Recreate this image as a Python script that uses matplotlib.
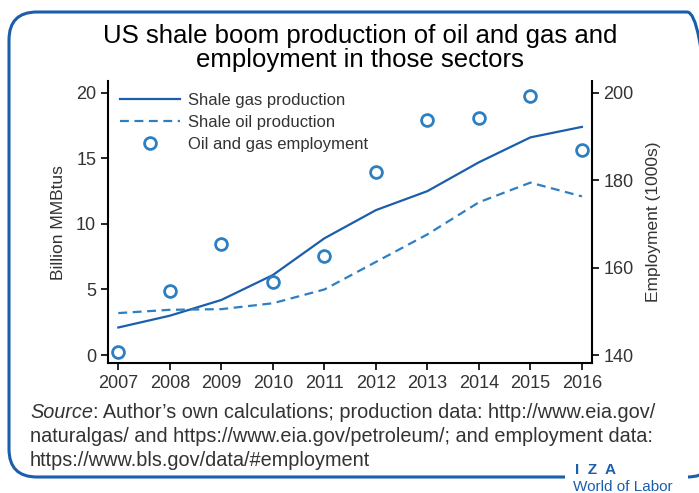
import matplotlib
matplotlib.use('Agg')
import matplotlib.pyplot as plt
from matplotlib.patches import FancyBboxPatch, Rectangle
from matplotlib.lines import Line2D

plt.rcParams['font.family'] = ['Liberation Sans', 'DejaVu Sans']

# data
years = [2007, 2008, 2009, 2010, 2011, 2012, 2013, 2014, 2015, 2016]
gas = [2.1, 3.0, 4.2, 6.1, 8.9, 11.05, 12.5, 14.7, 16.6, 17.4]
oil = [3.2, 3.45, 3.5, 3.95, 5.0, 7.1, 9.2, 11.65, 13.15, 12.1]
employment = [140.8, 154.7, 165.4, 156.6, 162.7, 181.8, 193.7, 194.3, 199.2, 186.9]

left_ticks = [0, 5, 10, 15, 20]
right_ticks = [140, 160, 180, 200]

c_gas = '#1b5eab'
c_oil = '#2e7fc2'
grey = '#333333'

W, H = 699, 493
fig = plt.figure(figsize=(6.99, 4.93), dpi=100)

def fx(px):
    return px / W

def fy(py):
    return 1 - py / H

# rounded frame, with a gap for the logo
frame = FancyBboxPatch((fx(9), fy(477)), (715 - 9) / W, (477 - 12) / H,
                       boxstyle='round,pad=0,rounding_size=0.04',
                       transform=fig.transFigure, fill=False,
                       edgecolor=c_gas, linewidth=2.2, mutation_aspect=W / H)
fig.patches.append(frame)
fig.patches.append(Rectangle((fx(565), fy(486)), (688 - 565) / W, 16 / H,
                             transform=fig.transFigure, facecolor='white',
                             edgecolor='none', zorder=2))

ax = fig.add_axes([fx(108), fy(363.3), (591.7 - 108) / W, (363.3 - 81) / H])
ax2 = ax.twinx()

ax.plot(years, gas, color=c_gas, lw=1.6, zorder=3)
ax.plot(years, oil, color=c_oil, lw=1.6, ls=(0, (4, 2.5)), zorder=3)
ax2.plot(years, employment, ls='none', marker='o', ms=8.5, mfc='none',
         mec=c_oil, mew=2.0, zorder=4)

ylo, yhi = -0.63, 20.9
ax.set_ylim(ylo, yhi)
ax2.set_ylim(140 + 3 * ylo, 140 + 3 * yhi)
ax.set_xlim(2006.8, 2016.19)

ax.set_xticks(years)
ax.set_yticks(left_ticks)
ax2.set_yticks(right_ticks)

for a in (ax, ax2):
    a.spines['top'].set_visible(False)
    a.tick_params(labelsize=13, labelcolor=grey, length=5, width=1.2, color='black')
ax.spines['right'].set_visible(False)
for s in ('left', 'bottom'):
    ax.spines[s].set_linewidth(1.5)
ax2.spines['right'].set_linewidth(1.5)
ax2.spines['left'].set_visible(False)
ax2.spines['bottom'].set_visible(False)

ax.set_ylabel('Billion MMBtus', fontsize=12.5, color=grey, labelpad=7)
ax2.set_ylabel('Employment (1000s)', fontsize=12.5, color=grey, labelpad=9)

handles = [Line2D([], [], color=c_gas, lw=1.6),
           Line2D([], [], color=c_oil, lw=1.6, ls=(0, (4, 2.5))),
           Line2D([], [], ls='none', marker='o', ms=8.5, mfc='none', mec=c_oil, mew=2.0)]
leg = ax.legend(handles, ['Shale gas production', 'Shale oil production', 'Oil and gas employment'],
                loc='upper left', frameon=False, fontsize=12, handlelength=3.6,
                handletextpad=0.5, labelspacing=0.42, borderaxespad=0.3,
                bbox_to_anchor=(0.0, 1.0))
for t in leg.get_texts():
    t.set_color(grey)

fig.text(0.515, fy(48), 'US shale boom production of oil and gas and\nemployment in those sectors',
         ha='center', va='center', fontsize=18.5, color='black', linespacing=1.05)

# source note
fs = 14.3
t1 = fig.text(fx(30), fy(418), 'Source', ha='left', va='baseline', fontsize=fs,
              color=grey, style='italic')
ax.annotate(': Author\u2019s own calculations; production data: http://www.eia.gov/',
            xy=(1, 0), xycoords=t1, ha='left', va='bottom', fontsize=fs, color=grey,
            annotation_clip=False)
fig.text(fx(30), fy(442), 'naturalgas/ and https://www.eia.gov/petroleum/; and employment data:',
         ha='left', va='baseline', fontsize=fs, color=grey)
fig.text(fx(30), fy(466), 'https://www.bls.gov/data/#employment',
         ha='left', va='baseline', fontsize=fs, color=grey)

fig.text(fx(575), fy(470), 'I  Z  A', ha='left', va='center', fontsize=11,
         color=c_gas, fontweight='bold', zorder=3)
fig.text(fx(573), fy(487), 'World of Labor', ha='left', va='center', fontsize=11,
         color=c_gas, zorder=3)

fig.savefig('out.png', dpi=100)
